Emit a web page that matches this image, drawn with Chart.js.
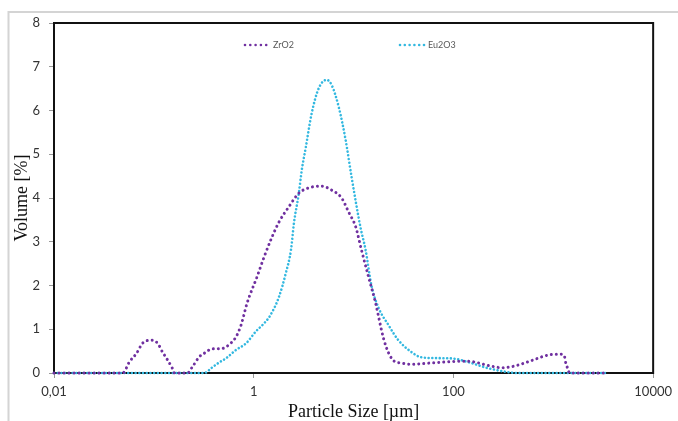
<!DOCTYPE html>
<html>
<head>
<meta charset="utf-8">
<script src="https://cdn.jsdelivr.net/npm/chart.js@4"></script>
<style>
  html, body { margin: 0; padding: 0; background: #fff; }
  #wrap { width: 678px; height: 421px; }
</style>
</head>
<body>
<div id="wrap"><canvas id="psd-chart" width="678" height="421"></canvas></div>
<script>
// particle size distribution
const zrSize = [0.01, 0.0488, 0.0571, 0.0671, 0.0771, 0.0948, 0.109, 0.122, 0.137, 0.153, 0.161, 0.217, 0.243, 0.285, 0.335, 0.376, 0.483, 0.594, 0.667, 0.748, 0.859, 1.08, 1.27, 1.52, 1.79, 2.25, 2.83, 3.81, 4.80, 6.04, 7.59, 8.92, 10.5, 12.0, 14.1, 16.6, 19.9, 22.5, 25.5, 29.4, 37.9, 60.0, 94.9, 131, 164, 207, 260, 313, 394, 518, 652, 820, 1031, 1183, 1297, 1327, 1390, 1455, 3240];
const zrVolume = [0, 0, 0.26, 0.45, 0.68, 0.75, 0.68, 0.48, 0.3, 0.11, 0, 0, 0.14, 0.37, 0.48, 0.55, 0.56, 0.69, 0.83, 1.1, 1.6, 2.2, 2.65, 3.1, 3.45, 3.8, 4.11, 4.25, 4.27, 4.18, 4.0, 3.68, 3.34, 2.81, 2.2, 1.6, 0.8, 0.45, 0.27, 0.23, 0.2, 0.23, 0.26, 0.27, 0.25, 0.19, 0.14, 0.12, 0.15, 0.23, 0.31, 0.39, 0.43, 0.43, 0.37, 0.25, 0.11, 0, 0];

const euSize = [0.01, 0.32, 0.38, 0.45, 0.53, 0.667, 0.839, 1.05, 1.25, 1.45, 1.79, 2.10, 2.36, 2.53, 2.83, 3.03, 3.33, 3.81, 4.48, 5.38, 6.04, 7.10, 8.32, 9.55, 11.7, 13.2, 15.1, 17.7, 22.3, 28.1, 37.9, 47.6, 70, 99.3, 140, 222, 351, 442, 3330];
const euVolume = [0, 0, 0.12, 0.24, 0.34, 0.53, 0.68, 0.95, 1.12, 1.3, 1.74, 2.29, 2.81, 3.43, 4.11, 4.64, 5.17, 5.94, 6.51, 6.70, 6.58, 6.08, 5.33, 4.48, 3.34, 2.81, 2.0, 1.5, 1.1, 0.75, 0.48, 0.36, 0.34, 0.33, 0.25, 0.11, 0.02, 0, 0];

const xTicks = [0.01, 1, 100, 10000];
const xTickLabels = ['0,01', '1', '100', '10000'];

const toPoints = (xs, ys) => xs.map((x, i) => ({ x: x, y: ys[i] }));

const tickFont = { family: 'Lato, "Open Sans", sans-serif', size: 13 };
const titleFont = { family: '"Liberation Serif", "DejaVu Serif", serif', size: 18, lineHeight: 1 };

// white page, grey picture frame, black box round the plot
const framePlugin = {
  id: 'frame',
  beforeDraw(chart) {
    const ctx = chart.ctx;
    ctx.save();
    ctx.fillStyle = '#fff';
    ctx.fillRect(0, 0, chart.width, chart.height);
    ctx.strokeStyle = '#d4d4d4';
    ctx.lineWidth = 2;
    ctx.beginPath();
    ctx.moveTo(8.5, chart.height);
    ctx.lineTo(8.5, 12);
    ctx.lineTo(chart.width, 12);
    ctx.stroke();
    ctx.restore();
  },
  beforeDatasetsDraw(chart) {
    const a = chart.chartArea;
    const ctx = chart.ctx;
    ctx.save();
    ctx.strokeStyle = '#111';
    ctx.lineWidth = 2;
    ctx.strokeRect(a.left, a.top, a.right - a.left, a.bottom - a.top);
    ctx.restore();
  }
};

// small legend inside the plot, like the original
const dotLegend = {
  id: 'dotLegend',
  afterDraw(chart, args, opts) {
    const ctx = chart.ctx;
    ctx.save();
    ctx.font = '9px Lato, "Open Sans", sans-serif';
    ctx.textBaseline = 'middle';
    chart.data.datasets.forEach((ds, i) => {
      const item = opts.items[i];
      ctx.fillStyle = ds.borderColor;
      for (let k = 0; k < item.dots; k++) {
        ctx.beginPath();
        ctx.arc(item.x + k * item.gap, opts.y, 1.3, 0, Math.PI * 2);
        ctx.fill();
      }
      ctx.fillStyle = '#595959';
      ctx.fillText(ds.label, item.textX, opts.y);
    });
    ctx.restore();
  }
};

const config = {
  type: 'line',
  data: {
    datasets: [{
      label: 'ZrO2',
      data: toPoints(zrSize, zrVolume),
      borderColor: '#7030A0',
      backgroundColor: '#7030A0',
      borderWidth: 3,
      borderDash: [0.01, 5],
      borderCapStyle: 'round',
      cubicInterpolationMode: 'monotone',
      pointRadius: 0,
      clip: false
    }, {
      label: 'Eu2O3',
      data: toPoints(euSize, euVolume),
      borderColor: '#33B8E0',
      backgroundColor: '#33B8E0',
      borderWidth: 2.6,
      borderDash: [0.01, 3.7],
      borderCapStyle: 'round',
      cubicInterpolationMode: 'monotone',
      pointRadius: 0,
      clip: false
    }]
  },
  options: {
    responsive: false,
    animation: false,
    layout: { padding: { left: 0, right: 22, top: 23, bottom: 0 } },
    plugins: {
      legend: { display: false },
      tooltip: { enabled: false },
      dotLegend: {
        y: 45,
        items: [
          { x: 245, gap: 5.3, dots: 5, textX: 273 },
          { x: 400, gap: 4.8, dots: 6, textX: 428 }
        ]
      }
    },
    scales: {
      x: {
        type: 'logarithmic',
        min: 0.01,
        max: 10000,
        afterBuildTicks: (scale) => { scale.ticks = xTicks.map(v => ({ value: v })); },
        afterFit: (scale) => { scale.height = 48; },
        ticks: {
          autoSkip: false,
          maxRotation: 0,
          padding: 6,
          color: '#333',
          font: tickFont,
          callback: (value, index) => xTickLabels[index]
        },
        grid: { drawOnChartArea: false, tickLength: 5, color: '#999' },
        border: { display: false },
        title: {
          display: true,
          text: 'Particle Size [µm]',
          color: '#111',
          font: titleFont,
          padding: { top: 0, bottom: 0 }
        }
      },
      y: {
        min: 0,
        max: 8,
        afterFit: (scale) => { scale.width = 54; },
        ticks: { stepSize: 1, padding: 9, color: '#333', font: tickFont },
        grid: { drawOnChartArea: false, tickLength: 5, color: '#999' },
        border: { display: false },
        title: {
          display: true,
          text: 'Volume [%]',
          color: '#111',
          font: titleFont,
          padding: { top: 13, bottom: 0 }
        }
      }
    }
  },
  plugins: [framePlugin, dotLegend]
};

const psdChart = new Chart(document.getElementById('psd-chart'), config);
</script>
</body>
</html>
